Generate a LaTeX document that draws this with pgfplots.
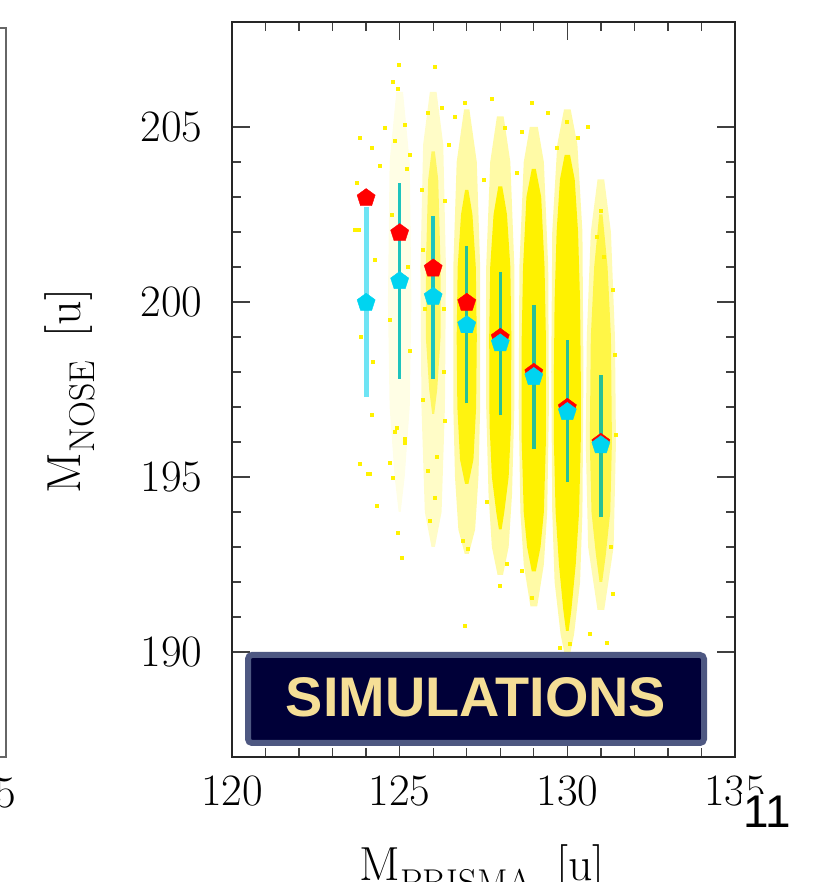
\documentclass[border=0pt]{standalone}
\usepackage{fontspec}
\usepackage{pgfplots}
\pgfplotsset{compat=1.18}
\newfontfamily\sansfont{Liberation Sans}
\definecolor{cyanmk}{RGB}{0,212,240}
\definecolor{barlight}{RGB}{110,228,244}
\definecolor{barteal}{RGB}{30,196,190}
\definecolor{bargreen}{RGB}{40,192,150}
\definecolor{navy}{RGB}{0,0,56}
\definecolor{slate}{RGB}{78,88,130}
\definecolor{wheat}{RGB}{245,222,150}
\begin{document}
\begin{tikzpicture}
\useasboundingbox (0bp,0bp) rectangle (816bp,882bp);
% remnant of the neighbouring panel
\draw[line width=1.6bp, black!60] (0bp,854bp) -- (6bp,854bp) -- (6bp,125bp) -- (0bp,125bp);
\node[anchor=base east, inner sep=0pt, font=\fontsize{45}{50}\selectfont] at (16bp,74bp) {135};
\begin{axis}[
  at={(232bp,125bp)}, anchor=south west,
  scale only axis, width=503bp, height=735bp,
  xmin=120, xmax=135, ymin=187, ymax=208,
  xtick={120,125,130,135}, ytick={190,195,200,205},
  minor x tick num=4, minor y tick num=4,
  tick align=inside, xtick pos=both, ytick pos=both,
  major tick length=18bp, minor tick length=9bp,
  axis line style={line width=1.8bp, black!85},
  every tick/.style={line width=1.3bp, black!75},
  /pgf/number format/assume math mode=true,
  tick label style={font=\fontsize{45}{50}\selectfont},
  xticklabel style={yshift=-15bp},
  yticklabel style={xshift=-26bp},
  clip=true,
]
% ---- yellow simulation clouds: faint halos ----
\addplot[draw=none, fill=yellow, fill opacity=0.1] coordinates {(125.1,206) (125.3,204) (125.35,200) (125.3,197) (125.15,195) (125.03,194) (124.97,194) (124.85,195) (124.7,197) (124.65,200) (124.7,204) (124.9,206)} -- cycle;
\addplot[draw=none, fill=yellow, fill opacity=0.22] coordinates {(126.1,206) (126.3,204.5) (126.38,201) (126.35,197) (126.25,194) (126.05,193) (125.95,193) (125.75,194) (125.65,197) (125.62,201) (125.7,204.5) (125.9,206)} -- cycle;
\addplot[draw=none, fill=yellow, fill opacity=0.35] coordinates {(127.08,205.5) (127.3,204) (127.4,201) (127.4,197) (127.35,195) (127.25,193.5) (127.06,192.8) (126.94,192.8) (126.75,193.5) (126.65,195) (126.6,197) (126.6,201) (126.7,204) (126.92,205.5)} -- cycle;
\addplot[draw=none, fill=yellow, fill opacity=0.35] coordinates {(128.1,205.3) (128.3,204) (128.42,201) (128.42,197) (128.35,194.5) (128.25,193) (128.08,192.2) (127.92,192.2) (127.75,193) (127.65,194.5) (127.58,197) (127.58,201) (127.7,204) (127.9,205.3)} -- cycle;
\addplot[draw=none, fill=yellow, fill opacity=0.35] coordinates {(129.12,205) (129.3,204) (129.43,201) (129.45,197) (129.4,194) (129.3,192.5) (129.1,191.3) (128.9,191.3) (128.7,192.5) (128.6,194) (128.55,197) (128.57,201) (128.7,204) (128.88,205)} -- cycle;
\addplot[draw=none, fill=yellow, fill opacity=0.35] coordinates {(130.1,205.5) (130.3,204.5) (130.45,202) (130.48,198) (130.45,194) (130.38,192) (130.2,190.5) (130.05,189.8) (129.95,189.8) (129.8,190.5) (129.62,192) (129.55,194) (129.52,198) (129.55,202) (129.7,204.5) (129.9,205.5)} -- cycle;
\addplot[draw=none, fill=yellow, fill opacity=0.3] coordinates {(131.1,203.5) (131.3,202) (131.42,199) (131.45,196) (131.38,193) (131.1,191.2) (130.9,191.2) (130.62,193) (130.55,196) (130.58,199) (130.7,202) (130.9,203.5)} -- cycle;
% ---- dense cores ----
\addplot[draw=none, fill=yellow, fill opacity=0.5] coordinates {(126.05,204.3) (126.15,203.5) (126.22,201) (126.22,199) (126.12,197.5) (126.03,196.8) (125.97,196.8) (125.88,197.5) (125.78,199) (125.78,201) (125.85,203.5) (125.95,204.3)} -- cycle;
\addplot[draw=none, fill=yellow, fill opacity=0.9] coordinates {(127.05,203.2) (127.17,202.5) (127.27,201) (127.3,199) (127.28,197) (127.2,195.5) (127.05,194.8) (126.95,194.8) (126.8,195.5) (126.72,197) (126.7,199) (126.73,201) (126.83,202.5) (126.95,203.2)} -- cycle;
\addplot[draw=none, fill=yellow] coordinates {(128.06,203.3) (128.2,202.5) (128.3,201) (128.33,199) (128.32,196.5) (128.25,195) (128.12,194) (128.04,193.5) (127.96,193.5) (127.88,194) (127.75,195) (127.68,196.5) (127.67,199) (127.7,201) (127.8,202.5) (127.94,203.3)} -- cycle;
\addplot[draw=none, fill=yellow] coordinates {(129.06,203.8) (129.22,203) (129.32,201) (129.36,199) (129.36,196) (129.3,194) (129.2,193) (129.06,192.3) (128.94,192.3) (128.8,193) (128.7,194) (128.64,196) (128.64,199) (128.68,201) (128.78,203) (128.94,203.8)} -- cycle;
\addplot[draw=none, fill=yellow] coordinates {(130.08,204.2) (130.22,203.5) (130.32,202) (130.38,200) (130.4,198) (130.4,196) (130.35,194) (130.25,192.5) (130.12,191.2) (130.04,190.6) (129.96,190.6) (129.88,191.2) (129.75,192.5) (129.65,194) (129.6,196) (129.6,198) (129.62,200) (129.68,202) (129.78,203.5) (129.92,204.2)} -- cycle;
\addplot[draw=none, fill=yellow, fill opacity=0.6] coordinates {(131.05,202.5) (131.2,201) (131.3,199) (131.33,196) (131.28,194) (131.15,192.8) (131.04,192) (130.96,192) (130.85,192.8) (130.72,194) (130.67,196) (130.7,199) (130.8,201) (130.95,202.5)} -- cycle;
% ---- sparse simulated events ----
\addplot[only marks, mark=square*, mark size=1.5bp, color=yellow] coordinates {
(124.98,206.78) (126.05,206.72) (124.8,206.3) (124.95,206.1) (126.95,205.7) (127.75,205.8)
(128.95,205.7) (129.99,205.15) (124.56,204.98) (125.16,205.06) (123.82,204.7) (124.18,204.4)
(125.85,205.4) (126.26,205.55) (126.65,205.3) (128.14,204.98) (128.65,204.86) (129.69,204.4)
(123.67,202.06) (124.41,203.9) (130.89,201.86) (131.07,201.3) (131.36,200.34) (123.82,195.39)
(124.06,195.1) (124.32,194.19) (124.95,193.42) (125.07,192.7) (124.71,195.42) (124.8,194.99)
(125.16,196.1) (124.92,196.4) (124.18,196.77) (125.9,193.76) (126.05,194.42) (126.11,195.57)
(125.85,195.19) (126.89,193.19) (127.04,192.96) (126.95,190.76) (127.99,191.9) (128.2,192.53)
(128.95,191.56) (128.65,192.33) (129.78,190.13) (130.08,190.24) (130.68,190.53) (131.18,190.27)
(131.36,191.67) (123.73,203.4) (123.79,202.06) (124.1,195.1) (124.86,196.3) (125.16,195.97)
(124.25,201.2) (123.85,199.0) (124.2,198.3) (124.75,202.5) (125.25,201.0) (124.7,199.5)
(125.3,198.6) (125.2,203.8) (124.85,204.6) (125.3,204.2) (125.65,203.2) (125.7,201.5)
(125.75,199.8) (125.7,197.2) (126.35,202.9) (126.3,199.8) (126.3,198.0) (126.35,196.6)
(126.45,204.5) (127.5,203.5) (127.6,194.3) (128.5,203.7) (131.4,198.5) (131.45,196.2)
(131.3,193.0) (130.6,205.0) (129.4,205.4) (130.3,204.7) (131.0,202.6)
};
% ---- red markers (reference values) ----
\addplot[only marks, mark=pentagon*, mark size=9.5bp, color=red] coordinates {
(124,202.97) (125,201.97) (126,200.96) (127,199.98) (128,198.98) (129,197.98) (130,196.98) (131,195.98)};
% ---- error bars ----
\addplot[barlight, line width=5bp] coordinates {(124,197.28) (124,202.7)};
\addplot[barteal, line width=3.5bp] coordinates {(125,197.8) (125,203.4)};
\addplot[barteal, line width=3.5bp] coordinates {(126,197.8) (126,202.45)};
\addplot[bargreen, line width=3.5bp] coordinates {(127,197.1) (127,201.6)};
\addplot[bargreen, line width=3.5bp] coordinates {(128,196.76) (128,200.86)};
\addplot[bargreen, line width=3.5bp] coordinates {(129,195.8) (129,199.9)};
\addplot[bargreen, line width=3.5bp] coordinates {(130,194.85) (130,198.9)};
\addplot[bargreen, line width=3.5bp] coordinates {(131,193.85) (131,197.9)};
% ---- cyan markers (simulated means) ----
\addplot[only marks, mark=pentagon*, mark size=9.5bp, color=cyanmk] coordinates {
(124,199.98) (125,200.6) (126,200.15) (127,199.34) (128,198.82) (129,197.86) (130,196.86) (131,195.91)};
\end{axis}
% SIMULATIONS label
\draw[rounded corners=4bp, line width=6bp, draw=slate, fill=navy] (248bp,139bp) rectangle (704bp,227bp);
\node[font=\sansfont\bfseries\fontsize{56}{60}\selectfont, text=wheat, inner sep=0pt] at (476bp,185bp) {SIMULATIONS};
% axis titles
\node[rotate=90, anchor=base, inner sep=0pt, font=\fontsize{48}{54}\selectfont] at (80bp,491bp)
  {M\raisebox{-0.3em}{\fontsize{36}{40}\selectfont NOSE}\hspace{0.5em}[u]};
\node[anchor=base, inner sep=0pt, font=\fontsize{48}{54}\selectfont] at (482bp,2bp)
  {M\raisebox{-0.3em}{\fontsize{36}{40}\selectfont PRISMA}\hspace{0.5em}[u]};
% slide number
\node[anchor=base west, fill=white, inner sep=2bp, font=\sansfont\fontsize{46}{50}\selectfont] at (741bp,54bp) {11};
\end{tikzpicture}
\end{document}
